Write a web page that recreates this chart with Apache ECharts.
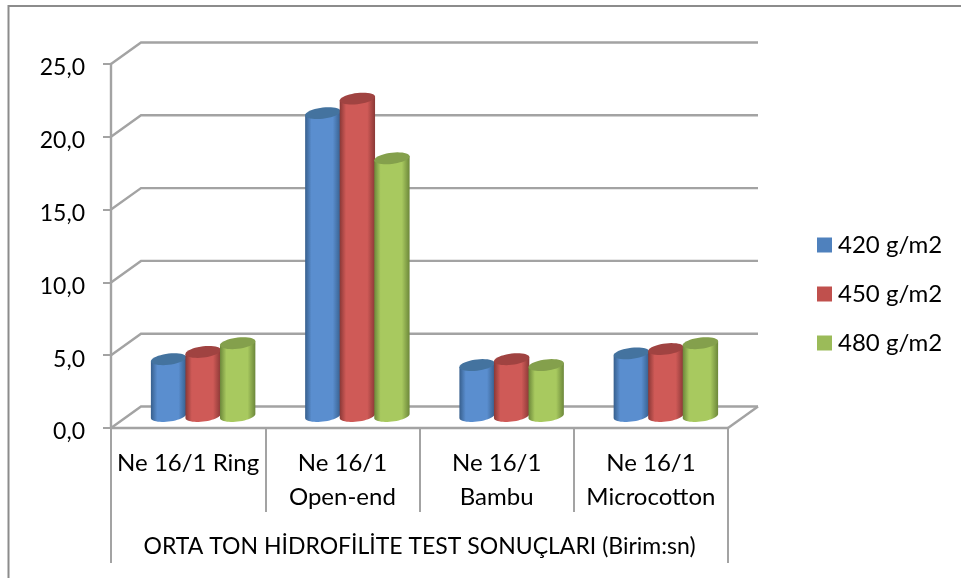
<!DOCTYPE html>
<html><head><meta charset="utf-8">
<style>html,body{margin:0;padding:0;background:#fff}#c{width:961px;height:578px}</style>
<script src="https://cdn.jsdelivr.net/npm/echarts@6/dist/echarts.min.js"></script>
</head><body><div id="c"></div>
<script>
const categories = ['Ne 16/1 Ring', 'Ne 16/1\nOpen-end', 'Ne 16/1\nBambu', 'Ne 16/1\nMicrocotton'];
const groupLabel = ['ORTA TON HİDROFİLİTE TEST SONUÇLARI (Birim:sn)'];
const seriesNames = ['420 g/m2', '450 g/m2', '480 g/m2'];
const values420 = [3.9, 20.8, 3.5, 4.3];
const values450 = [4.4, 21.8, 3.9, 4.6];
const values480 = [5.0, 17.7, 3.5, 5.0];
const yTicks = [0, 5, 10, 15, 20, 25];

const FONT = 'Lato, "Open Sans", sans-serif';
const GRID_COLOR = '#a3a3a3';
const DEPTH_X = 30, DEPTH_Y = 21.5;
const palettes = [
  {legend:'#4f81bd', edge:'#375f8d', mid:'#5a8ecf', cap:'#44739f'},
  {legend:'#c0504d', edge:'#8a3836', mid:'#cf5a57', cap:'#a04341'},
  {legend:'#9bbb59', edge:'#6c873a', mid:'#a8c95f', cap:'#84a04c'}
];

function ellipsePts(cx, cy, rx, ry, tilt, from, to, n) {
  const pts = [];
  for (let i = 0; i <= n; i++) {
    const t = from + (to - from) * i / n;
    const x = rx * Math.cos(t), y = ry * Math.sin(t);
    pts.push([cx + x, cy + y - tilt * x / rx]);
  }
  return pts;
}

function cylinder(index, pal) {
  return function (params, api) {
    const cat = api.value(0), val = api.value(1);
    const band = api.size([1, 0])[0];
    const w = band * 0.224, rx = w / 2 + 0.4, ry = 5.6, tilt = 2;
    const top = api.coord([cat, val]), base = api.coord([cat, 0]);
    const cx = top[0] + 15 + (index - 1) * w;
    const yTop = top[1] - 12, yBase = base[1] - 12;
    const body = ellipsePts(cx, yBase, rx, ry, tilt, 0, Math.PI, 24);
    const bodyPts = [[cx + rx, yTop - tilt]].concat(body).concat([[cx - rx, yTop + tilt]]);
    const grad = {type:'linear', x:0, y:0, x2:1, y2:0, colorStops:[
      {offset:0, color:pal.edge},{offset:0.18, color:pal.mid},
      {offset:0.78, color:pal.mid},{offset:1, color:pal.edge}]};
    return {type:'group', children:[
      {type:'polygon', shape:{points:bodyPts}, style:{fill:grad}},
      {type:'polygon', shape:{points:ellipsePts(cx, yTop, rx, ry, tilt, 0, Math.PI*2, 40)}, style:{fill:pal.cap}}
    ]};
  };
}

function wall(params, api) {
  const y = api.coord([0, api.value(1)])[1];
  const cs = params.coordSys;
  const pts = [[cs.x, y], [cs.x + DEPTH_X, y - DEPTH_Y], [cs.x + cs.width + DEPTH_X, y - DEPTH_Y]];
  const kids = [{type:'polyline', shape:{points:pts}, style:{stroke:GRID_COLOR, lineWidth:2.4, fill:null}}];
  if (api.value(1) === 0) {
    kids.push({type:'line', shape:{x1:cs.x+cs.width, y1:y, x2:cs.x+cs.width+DEPTH_X, y2:y-DEPTH_Y},
      style:{stroke:GRID_COLOR, lineWidth:2.4}});
  }
  return {type:'group', children:kids};
}

const allValues = [values420, values450, values480];
const barSeries = allValues.map((vals, i) => ({
  type:'custom', name:seriesNames[i], xAxisIndex:0, yAxisIndex:0,
  coordinateSystem:'cartesian2d', z:5 + i, clip:false,
  itemStyle:{color:palettes[i].legend},
  encode:{x:0, y:1},
  renderItem:cylinder(i, palettes[i]),
  data:vals.map((v, c) => [c, v])
}));

const chart = echarts.init(document.getElementById('c'), null, {renderer:'canvas'});
chart.setOption({
  animation:false,
  backgroundColor:'#fff',
  textStyle:{fontFamily:FONT},
  grid:{left:111, top:64, width:617, height:364, containLabel:false},
  legend:{
    data:seriesNames, orient:'vertical', left:812, top:228, itemWidth:15, itemHeight:15, itemGap:25,
    icon:'rect', selectedMode:false,
    textStyle:{fontFamily:FONT, fontSize:24, color:'#000', padding:[0,0,0,1]}
  },
  graphic:[{type:'polyline', silent:true, z:-1,
    shape:{points:[[8.5,578],[8.5,6],[961,6]]},
    style:{stroke:'#8c8c8c', lineWidth:2, fill:null}}],
  xAxis:[
    {type:'category', data:categories, position:'bottom', boundaryGap:true,
     axisLine:{lineStyle:{color:GRID_COLOR, width:2.4}},
     axisTick:{show:true, length:84, lineStyle:{color:GRID_COLOR, width:2}},
     axisLabel:{interval:0, margin:18, fontFamily:FONT, fontSize:24, color:'#000', lineHeight:34, verticalAlign:'top'},
     splitLine:{show:false}},
    {type:'category', data:groupLabel, position:'bottom', boundaryGap:true,
     axisLine:{show:false},
     axisTick:{show:true, length:135, lineStyle:{color:GRID_COLOR, width:2}},
     axisLabel:{interval:0, margin:107, fontFamily:FONT, fontSize:23, color:'#000', verticalAlign:'top'},
     splitLine:{show:false}}
  ],
  yAxis:{type:'value', min:0, max:25, interval:5,
    axisLine:{show:true, lineStyle:{color:GRID_COLOR, width:2.4}},
    axisTick:{show:true, length:8, lineStyle:{color:GRID_COLOR, width:2}},
    axisLabel:{margin:26, fontFamily:FONT, fontSize:23, color:'#000', verticalAlign:'top', lineHeight:8,
      formatter:v => v.toFixed(1).replace('.', ',')},
    splitLine:{show:false}},
  series:[{
    type:'custom', name:'walls', xAxisIndex:0, yAxisIndex:0, coordinateSystem:'cartesian2d', z:1, clip:false,
    silent:true, renderItem:wall, encode:{x:0, y:1},
    data:yTicks.map(t => [0, t])
  }].concat(barSeries)
});
</script></body></html>
